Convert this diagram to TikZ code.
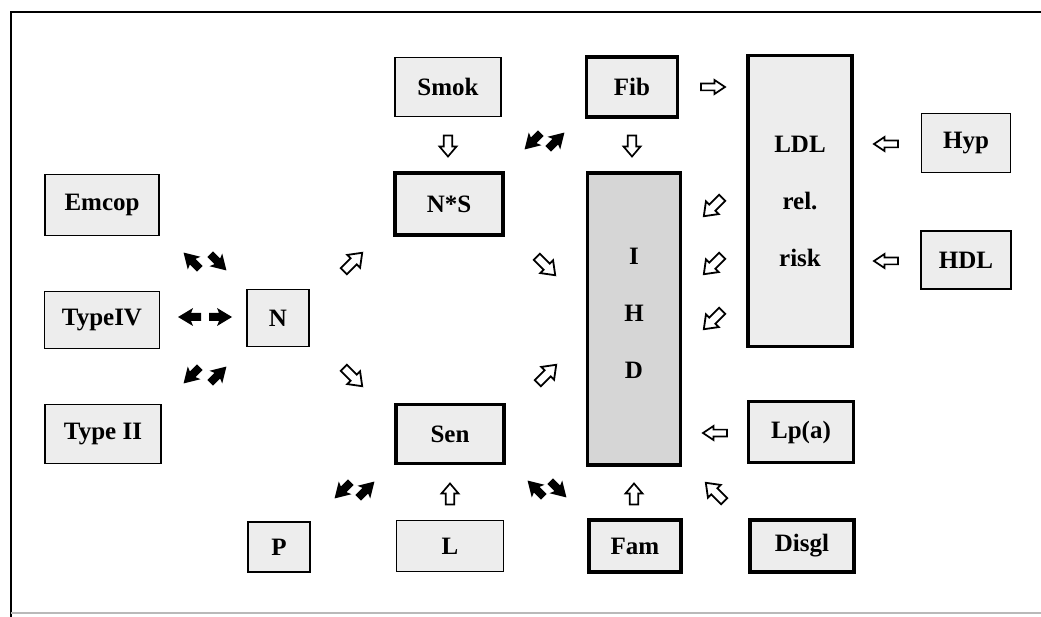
\documentclass[tikz,border=0pt]{standalone}
\usepackage{fontspec}
\setmainfont{Liberation Serif}
\usetikzlibrary{calc}
\definecolor{boxfill}{gray}{0.93}
\definecolor{darkfill}{gray}{0.84}
\tikzset{
  box/.style={draw=black, line width=1.8pt, fill=boxfill, rectangle, inner sep=0pt,
    font=\fontsize{25}{57}\selectfont\bfseries, align=center},
  tbox/.style={box, line width=3.8pt},
  harrowv/.pic={\draw[fill=white, line width=1.7pt, line join=miter]
     (-10.5,-4.2) -- (0.5,-4.2) -- (0.5,-8.5) -- (10.5,0) -- (0.5,8.5) -- (0.5,4.2) -- (-10.5,4.2) -- cycle;},
  harrowh/.pic={\draw[fill=white, line width=1.7pt, line join=miter]
     (-12,-3.4) -- (1.5,-3.4) -- (1.5,-7) -- (12,0) -- (1.5,7) -- (1.5,3.4) -- (-12,3.4) -- cycle;},
  harrowd/.pic={\draw[fill=white, line width=1.8pt, line join=miter]
     (-13,-4.3) -- (1,-4.3) -- (1,-9) -- (13,0) -- (1,9) -- (1,4.3) -- (-13,4.3) -- cycle;},
  barrow/.pic={\fill[black]
     (-11,-4) -- (-1,-4) -- (-3,-9) -- (12,0) -- (-3,9) -- (-1,4) -- (-11,4) -- cycle;},
}
\begin{document}
\begin{tikzpicture}[x=1pt, y=-1pt]
\useasboundingbox (0,0) rectangle (1041,617);
% frame
\draw[line width=1.8pt] (11,617) -- (11,12) -- (1041,12);
\draw[line width=1.2pt, gray!55] (11,613) -- (1041,613);

% boxes
\node[box, minimum width=114pt, minimum height=61pt] (emcop) at (102,205) {Emcop};
\node[box, minimum width=115pt, minimum height=57pt] (typeiv) at (102,320) {TypeIV};
\node[box, minimum width=116pt, minimum height=59pt] (typeii) at (103,434) {Type II};
\node[box, minimum width=62pt, minimum height=57pt] (n) at (278,318) {N};
\node[box, minimum width=62pt, minimum height=50pt] (p) at (279,547) {P};
\node[box, minimum width=106pt, minimum height=59pt] (smok) at (448,87) {Smok};
\node[tbox, minimum width=108pt, minimum height=62pt] (ns) at (449,204) {N*S};
\node[tbox, minimum width=108pt, minimum height=59pt] (sen) at (450,434) {Sen};
\node[box, minimum width=107pt, minimum height=51pt] (l) at (450,546) {L};
\node[tbox, minimum width=91pt, minimum height=60pt] (fib) at (632,87) {Fib};
\node[tbox, fill=darkfill, minimum width=93pt, minimum height=292pt] (ihd) at (634,319) {};
\node[font=\fontsize{25}{57}\selectfont\bfseries, align=center, inner sep=0pt] (ihdtext) at (634,313) {I\\H\\D};
\node[tbox, minimum width=92pt, minimum height=52pt] (fam) at (635,546) {Fam};
\node[tbox, minimum width=104pt, minimum height=291pt] (ldl) at (800,201) {LDL\\rel.\\risk};
\node[tbox, minimum width=105pt, minimum height=61pt] (lpa) at (801,432) {Lp(a)};
\node[tbox, minimum width=104pt, minimum height=52pt] (disgl) at (802,546) {Disgl};
\node[box, minimum width=89pt, minimum height=59pt] (hyp) at (966,143) {Hyp};
\node[box, minimum width=90pt, minimum height=58pt] (hdl) at (966,260) {HDL};

% hollow arrows
\pic[rotate=-90] at (448,146) {harrowv};
\pic[rotate=-90] at (632,146) {harrowv};
\pic at (713,87) {harrowh};
\pic[rotate=180] at (886,144) {harrowh};
\pic[rotate=180] at (886,261) {harrowh};
\pic[rotate=-135] at (713,207) {harrowd};
\pic[rotate=-135] at (713,265) {harrowd};
\pic[rotate=-135] at (713,320) {harrowd};
\pic[rotate=180] at (715,433) {harrowh};
\pic[rotate=135] at (715,492) {harrowd};
\pic[rotate=90] at (634,494) {harrowv};
\pic[rotate=90] at (450,494) {harrowv};
\pic[rotate=-45] at (546,266) {harrowd};
\pic[rotate=45] at (547,374) {harrowd};
\pic[rotate=45] at (353,262) {harrowd};
\pic[rotate=-45] at (353,377) {harrowd};

% black double arrows
\pic[rotate=135] at (192,261) {barrow};
\pic[rotate=-45] at (218,262) {barrow};
\pic[rotate=180] at (190,317) {barrow};
\pic at (220,317) {barrow};
\pic[rotate=-135] at (192,375) {barrow};
\pic[rotate=45] at (218,375) {barrow};
\pic[rotate=-135] at (533,141) {barrow};
\pic[rotate=45] at (556,141) {barrow};
\pic[rotate=135] at (536,489) {barrow};
\pic[rotate=-45] at (558,489) {barrow};
\pic[rotate=-135] at (343,490) {barrow};
\pic[rotate=45] at (366,490) {barrow};
\end{tikzpicture}
\end{document}
